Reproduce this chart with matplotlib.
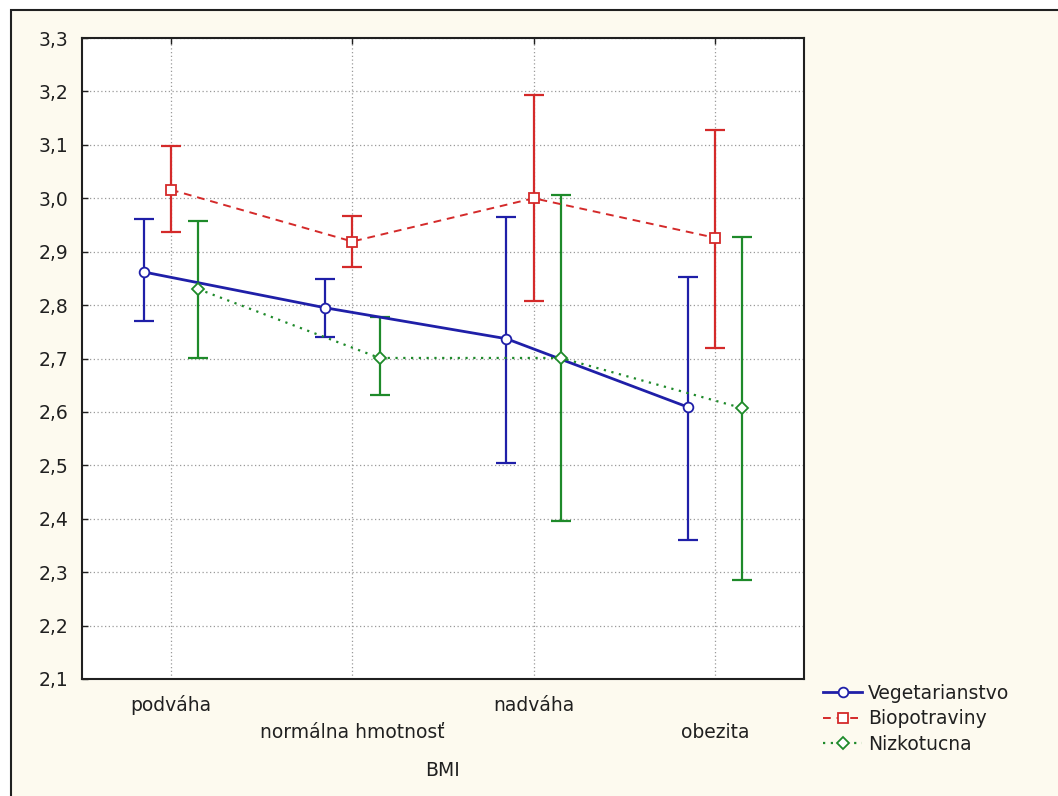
import matplotlib
matplotlib.use("Agg")
import matplotlib.pyplot as plt
from matplotlib.ticker import FuncFormatter, MultipleLocator
from matplotlib.patches import Rectangle
import numpy as np

plt.rcParams['font.family'] = ['DejaVu Sans']

categories = ["podváha", "normálna hmotnosť", "nadváha", "obezita"]
series_names = ["Vegetarianstvo", "Biopotraviny", "Nizkotucna"]

veg_mean = [2.862, 2.795, 2.737, 2.609]
veg_low = [2.770, 2.740, 2.504, 2.361]
veg_high = [2.962, 2.849, 2.964, 2.853]

bio_mean = [3.016, 2.919, 3.000, 2.926]
bio_low = [2.936, 2.872, 2.808, 2.720]
bio_high = [3.097, 2.966, 3.193, 3.127]

niz_mean = [2.830, 2.701, 2.701, 2.607]
niz_low = [2.701, 2.631, 2.395, 2.286]
niz_high = [2.958, 2.778, 3.007, 2.928]

W, H = 1058, 796
FS = 13.5
fig = plt.figure(figsize=(W / 100, H / 100), dpi=100, facecolor="white")
bg = "#FDFAEF"
fig.patches.append(Rectangle((11 / W, -0.1), 1.2, (H - 10) / H + 0.1,
                             transform=fig.transFigure, facecolor=bg,
                             edgecolor="#202020", linewidth=1.5, zorder=-10))

ax = fig.add_axes([82 / W, (H - 679) / H, (804 - 82) / W, (679 - 38) / H])
ax.set_facecolor("white")

x = np.arange(len(categories))
off = 0.15
specs = [
    (veg_mean, veg_low, veg_high, -off, "#1F1FA8", "-", "o", 2.0),
    (bio_mean, bio_low, bio_high, 0.0, "#D42A2A", (0, (4, 3)), "s", 1.4),
    (niz_mean, niz_low, niz_high, off, "#1E8A2A", (0, (1, 2.5)), "D", 1.6),
]
handles = []
for (m, lo, hi, o, col, ls, mk, lw), name in zip(specs, series_names):
    m = np.array(m); lo = np.array(lo); hi = np.array(hi)
    ax.errorbar(x + o, m, yerr=[m - lo, hi - m], fmt="none", ecolor=col,
                elinewidth=1.6, capsize=7, capthick=1.6, zorder=3)
    h, = ax.plot(x + o, m, color=col, linestyle=ls, linewidth=lw,
                 marker=mk, markersize=7 if mk != "D" else 6,
                 markerfacecolor="white", markeredgecolor=col,
                 markeredgewidth=1.3, zorder=4, label=name)
    handles.append(h)

ax.set_xlim(-0.49, 3.49)
ax.set_ylim(2.1, 3.3)
ax.yaxis.set_major_locator(MultipleLocator(0.1))
ax.yaxis.set_major_formatter(FuncFormatter(lambda v, p: f"{v:.1f}".replace(".", ",")))
ax.set_xticks(x)
ax.set_xticklabels([])
ax.grid(True, color="#9A9A9A", linestyle=(0, (1, 2)), linewidth=0.9)
ax.set_axisbelow(True)
ax.tick_params(axis="both", direction="in", length=4, width=1, colors="#202020",
               labelcolor="#202020", labelsize=FS, pad=10)
ax.tick_params(axis="x", top=True, bottom=False)
for s in ax.spines.values():
    s.set_linewidth(1.5)
    s.set_color("#202020")

for i, c in enumerate(categories):
    yl = -0.041 if i % 2 == 0 else -0.084
    ax.text(x[i], yl, c, transform=ax.get_xaxis_transform(), ha="center",
            va="center", fontsize=FS, color="#202020")
ax.text(0.5, -0.143, "BMI", transform=ax.transAxes, ha="center", va="center",
        fontsize=FS, color="#202020")

fig.legend(handles=handles, labels=series_names, loc="upper left",
           bbox_to_anchor=(806 / W, (H - 667) / H), frameon=False,
           fontsize=FS, handlelength=2.1, handletextpad=0.3,
           labelspacing=0.35, labelcolor="#202020")

fig.savefig("out.png", dpi=100, facecolor=fig.get_facecolor())
